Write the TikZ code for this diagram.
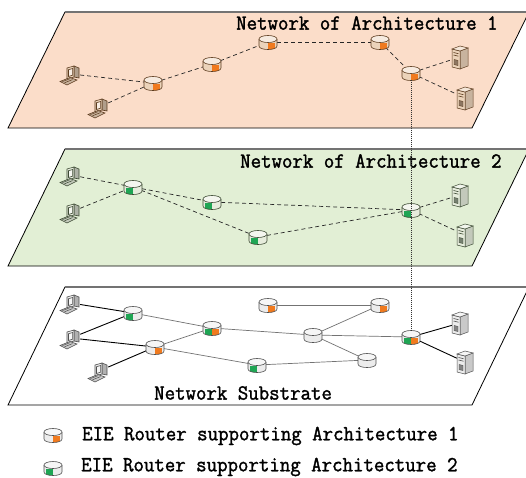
\documentclass[tikz,border=0pt]{standalone}
\usepackage{fontspec}
\newfontfamily\labelfont{Latin Modern Mono}[FakeBold=1.6]
\usetikzlibrary{shapes.geometric}

\definecolor{peach}{HTML}{FBDDC9}
\definecolor{leaf}{HTML}{E2EFD5}
\definecolor{rtan}{HTML}{EBD3BA}
\definecolor{rbrown}{HTML}{5C3B1E}
\definecolor{rorange}{HTML}{F07A1E}
\definecolor{rpale}{HTML}{E6ECDC}
\definecolor{rdkgreen}{HTML}{3C4A33}
\definecolor{rgreen}{HTML}{1FA554}
\definecolor{rgrey}{HTML}{ECECEC}
\definecolor{rgreyline}{HTML}{505050}

\tikzset{
  layerplane/.style={draw=black, line width=0.8pt},
  topedge/.style={draw=black!55, line width=1.4pt},
  dashlink/.style={draw=black!85, dash pattern=on 4pt off 3pt, line width=0.7pt},
  hostlink/.style={draw=black, line width=0.9pt},
  corelink/.style={draw=black!55, line width=0.7pt},
  tierlink/.style={draw=black!80, dash pattern=on 1pt off 1pt, line width=0.5pt},
  routerbox/.style={ellipse, minimum width=18pt, minimum height=13pt, inner sep=0pt},
  pcbox/.style={rectangle, minimum width=18pt, minimum height=20pt, inner sep=0pt},
  serverbox/.style={rectangle, minimum width=16pt, minimum height=22pt, inner sep=0pt},
  labeltext/.style={anchor=west, inner sep=0pt,
    font={\labelfont\fontsize{20.3pt}{22pt}\selectfont}},
  % router: body fill, outline, left flag colour, right flag colour
  pics/router/.style n args={4}{code={
    \path[fill=#1] (-9,-3) -- (-9,4) .. controls (-9,8.67) and (9,8.67) .. (9,4) -- (9,-3) -- cycle;
    \begin{scope}
      \clip (-9,-3) -- (-9,4) .. controls (-9,8.67) and (9,8.67) .. (9,4) -- (9,-3) -- cycle;
      \path[fill=#3] (-7,0.5) rectangle (0,10);
      \path[fill=#4] (0,0.5) rectangle (6.5,10);
    \end{scope}
    \draw[#2, line width=0.6pt] (-9,-3) -- (-9,4) .. controls (-9,8.67) and (9,8.67) .. (9,4) -- (9,-3);
    \draw[#2, fill=#1!45!white, line width=0.6pt] (0,-3) ellipse [x radius=9, y radius=3.5];
  }},
  % desktop computer: fill, outline
  pics/desktop/.style n args={2}{code={
    \filldraw[fill=#1!75!black, draw=#2, line width=0.6pt] (3,-8) -- (8,-6) -- (8,4) -- (3,3) -- cycle;
    \filldraw[fill=#1, draw=#2, line width=0.6pt] (-4,-6) -- (3,-8) -- (3,3) -- (-4,5) -- cycle;
    \filldraw[fill=#1!40!white, draw=#2, line width=0.6pt] (-2.5,-4.3) -- (1.6,-5.5) -- (1.6,1.2) -- (-2.5,2.5) -- cycle;
    \filldraw[fill=#1!85!black, draw=#2, line width=0.6pt] (-11,7.5) -- (-1,3.5) -- (6,6) -- (-4,11) -- cycle;
    \draw[#2, line width=0.5pt] (-8.5,7.6) -- (-0.8,4.6) (-6.5,8.8) -- (1.5,5.6);
  }},
  % tower server: fill, outline
  pics/tower/.style n args={2}{code={
    \filldraw[fill=#1!85!black, draw=#2, line width=0.5pt] (0,-6) -- (8,-9) -- (8,9) -- (0,12) -- cycle;
    \filldraw[fill=#1, draw=#2, line width=0.5pt] (-8,-8) -- (0,-6) -- (0,12) -- (-8,10) -- cycle;
    \filldraw[fill=#1!55!white, draw=#2, line width=0.5pt] (-8,-8) -- (0,-11) -- (8,-9) -- (0,-6) -- cycle;
    \draw[#2, line width=0.6pt] (-6.5,-4.5) -- (-1.5,-3.3) (-6.5,-2) -- (-1.5,-0.8);
    \filldraw[fill=#2!70!white, draw=#2, line width=0.4pt] (-6,2.5) -- (-2,3.4) -- (-2,8.5) -- (-6,7.6) -- cycle;
  }},
}

\begin{document}
\begin{tikzpicture}[x=1pt, y=-1pt]
\useasboundingbox (0,0) rectangle (526,477);
\clip (0,0) rectangle (526,477);

% ---------- layer 1 ----------
\path[layerplane, fill=peach] (65,12) -- (529,12) -- (472,128) -- (8,128) -- cycle;
\draw[topedge] (65,12) -- (529,12);

\node[pcbox] (p1pc1) at (71,74) {};
\node[pcbox] (p1pc2) at (99,107) {};
\node[routerbox] (p1r1) at (153,83) {};
\node[routerbox] (p1r2) at (212,64) {};
\node[routerbox] (p1r3) at (268,42) {};
\node[routerbox] (p1r4) at (380,42) {};
\node[routerbox] (p1r5) at (411,73) {};
\node[serverbox] (p1s1) at (460,57) {};
\node[serverbox] (p1s2) at (465,98) {};

\draw[dashlink] (p1pc1) -- (p1r1);
\draw[dashlink] (p1pc2) -- (p1r1);
\draw[dashlink] (p1r1) -- (p1r2);
\draw[dashlink] (p1r2) -- (p1r3);
\draw[dashlink] (p1r3) -- (p1r4);
\draw[dashlink] (p1r4) -- (p1r5);
\draw[dashlink] (p1r5) -- (p1s1);
\draw[dashlink] (p1r5) -- (p1s2);

\foreach \n in {p1r1,p1r2,p1r3,p1r4,p1r5}
  \pic at (\n) {router={rtan}{rbrown}{none}{rorange}};
\foreach \n in {p1pc1,p1pc2}
  \pic at (\n) {desktop={rtan}{rbrown}};
\foreach \n in {p1s1,p1s2}
  \pic at (\n) {tower={rtan}{rbrown}};

\node[labeltext] (t1) at (236,23) {\scalebox{1}[1.06]{Network of Architecture 1}};

% ---------- layer 2 ----------
\path[layerplane, fill=leaf] (65,149) -- (529,149) -- (472,266) -- (8,266) -- cycle;
\draw[topedge] (65,149) -- (529,149);

\node[pcbox] (p2pc1) at (71,175) {};
\node[pcbox] (p2pc2) at (71,212) {};
\node[routerbox] (p2r1) at (133,187) {};
\node[routerbox] (p2r2) at (212,202) {};
\node[routerbox] (p2r3) at (258,237) {};
\node[routerbox] (p2r4) at (411,210) {};
\node[serverbox] (p2s1) at (460,195) {};
\node[serverbox] (p2s2) at (465,235) {};

\draw[dashlink] (p2pc1) -- (p2r1);
\draw[dashlink] (p2pc2) -- (p2r1);
\draw[dashlink] (p2r1) -- (p2r2);
\draw[dashlink] (p2r1) -- (p2r3);
\draw[dashlink] (p2r2) -- (p2r4);
\draw[dashlink] (p2r3) -- (p2r4);
\draw[dashlink] (p2r4) -- (p2s1);
\draw[dashlink] (p2r4) -- (p2s2);

\foreach \n in {p2r1,p2r2,p2r3,p2r4}
  \pic at (\n) {router={rpale}{rdkgreen}{rgreen}{none}};
\foreach \n in {p2pc1,p2pc2}
  \pic at (\n) {desktop={rpale}{rdkgreen}};
\foreach \n in {p2s1,p2s2}
  \pic at (\n) {tower={rpale}{rdkgreen}};

\node[labeltext] (t2) at (240,161) {\scalebox{1}[1.06]{Network of Architecture 2}};

% ---------- substrate ----------
\path[layerplane, fill=white] (65,287) -- (529,287) -- (472,405) -- (8,405) -- cycle;
\draw[topedge] (65,287) -- (529,287);

\node[pcbox] (p3pc1) at (71,303) {};
\node[pcbox] (p3pc2) at (71,338) {};
\node[pcbox] (p3pc3) at (99,371) {};
\node[routerbox] (p3a) at (133,313) {};
\node[routerbox] (p3b) at (212,328) {};
\node[routerbox] (p3c) at (155,347) {};
\node[routerbox] (p3d) at (268,305) {};
\node[routerbox] (p3e) at (380,305) {};
\node[routerbox] (p3f) at (313,335) {};
\node[routerbox] (p3g) at (257,365) {};
\node[routerbox] (p3h) at (367,360) {};
\node[routerbox] (p3i) at (411,337) {};
\node[serverbox] (p3s1) at (460,323) {};
\node[serverbox] (p3s2) at (465,362) {};

\draw[hostlink] (p3pc1) -- (p3a);
\draw[hostlink] (p3pc2) -- (p3a);
\draw[hostlink] (p3pc2) -- (p3c);
\draw[hostlink] (p3pc3) -- (p3c);
\draw[hostlink] (p3i) -- (p3s1);
\draw[hostlink] (p3i) -- (p3s2);
\draw[corelink] (p3a) -- (p3b);
\draw[corelink] (p3c) -- (p3b);
\draw[corelink] (p3c) -- (p3g);
\draw[corelink] (p3b) -- (p3f);
\draw[corelink] (p3d) -- (p3e);
\draw[corelink] (p3f) -- (p3e);
\draw[corelink] (p3f) -- (p3i);
\draw[corelink] (p3f) -- (p3h);
\draw[corelink] (p3g) -- (p3h);

\pic at (p3a) {router={rgrey}{rgreyline}{rgreen}{none}};
\pic at (p3b) {router={rgrey}{rgreyline}{rgreen}{rorange}};
\pic at (p3c) {router={rgrey}{rgreyline}{none}{rorange}};
\pic at (p3d) {router={rgrey}{rgreyline}{none}{rorange}};
\pic at (p3e) {router={rgrey}{rgreyline}{none}{rorange}};
\pic at (p3f) {router={rgrey}{rgreyline}{none}{none}};
\pic at (p3g) {router={rgrey}{rgreyline}{rgreen}{none}};
\pic at (p3h) {router={rgrey}{rgreyline}{none}{none}};
\pic at (p3i) {router={rgrey}{rgreyline}{rgreen}{rorange}};
\foreach \n in {p3pc1,p3pc2,p3pc3}
  \pic at (\n) {desktop={rgrey}{rgreyline}};
\foreach \n in {p3s1,p3s2}
  \pic at (\n) {tower={rgrey}{rgreyline}};

\node[labeltext] (t3) at (154,393) {\scalebox{1}[1.06]{Network Substrate}};

% ---------- mapping across the layers ----------
\draw[tierlink] (p1r5) -- (p3i);

% ---------- legend ----------
\node[routerbox] (leg1) at (53,435) {};
\node[routerbox] (leg2) at (53,468) {};
\pic at (leg1) {router={rgrey}{rgreyline}{none}{rorange}};
\pic at (leg2) {router={rgrey}{rgreyline}{rgreen}{none}};
\node[labeltext] (legt1) at (82,436) {\scalebox{1}[1.06]{EIE Router supporting Architecture 1}};
\node[labeltext] (legt2) at (81,467) {\scalebox{1}[1.06]{EIE Router supporting Architecture 2}};
\end{tikzpicture}
\end{document}
